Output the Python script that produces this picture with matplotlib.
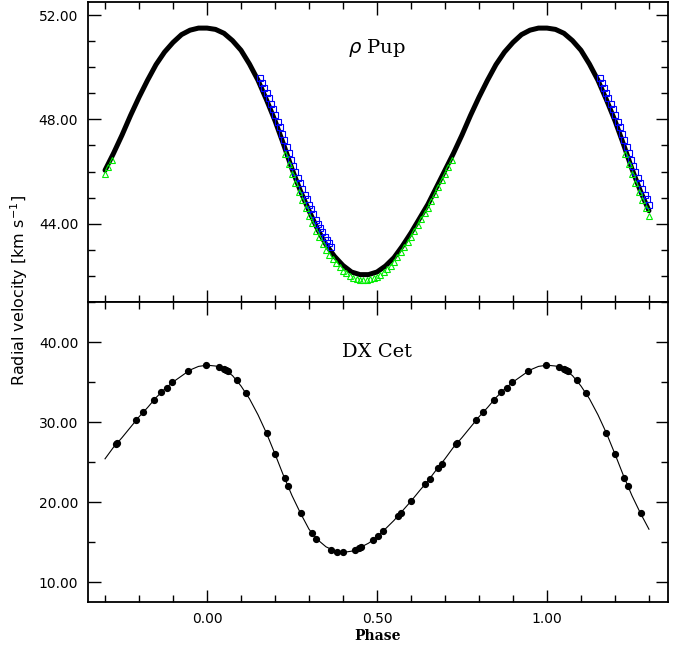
import numpy as np
import matplotlib
matplotlib.use("Agg")
import matplotlib.pyplot as plt
from matplotlib.ticker import MultipleLocator, FormatStrFormatter

# rho Pup : modele (points noirs), phase de base 0 -> 0.975
rho_phase = [0.000, 0.025, 0.050, 0.075, 0.100, 0.125, 0.150, 0.175, 0.200, 0.225,
             0.250, 0.275, 0.300, 0.325, 0.350, 0.375, 0.400, 0.425, 0.450, 0.475,
             0.500, 0.525, 0.550, 0.575, 0.600, 0.625, 0.650, 0.675, 0.700, 0.725,
             0.750, 0.775, 0.800, 0.825, 0.850, 0.875, 0.900, 0.925, 0.950, 0.975]
rho_vr = [51.50, 51.45, 51.30, 51.02, 50.65, 50.12, 49.50, 48.75, 47.95, 47.05,
          46.10, 45.25, 44.50, 43.80, 43.20, 42.75, 42.40, 42.15, 42.05, 42.05,
          42.15, 42.38, 42.70, 43.15, 43.65, 44.20, 44.75, 45.40, 46.05, 46.70,
          47.40, 48.15, 48.85, 49.50, 50.10, 50.58, 50.95, 51.25, 51.42, 51.50]

# carres bleus
blue_phase = [0.155, 0.162, 0.168, 0.175, 0.181, 0.188, 0.194, 0.201, 0.208, 0.214,
              0.221, 0.227, 0.234, 0.240, 0.247, 0.254, 0.260, 0.267, 0.273, 0.280,
              0.287, 0.293, 0.300, 0.306, 0.313, 0.320, 0.326, 0.333, 0.339, 0.346,
              0.353, 0.359, 0.366]
blue_vr = [49.60, 49.39, 49.21, 49.00, 48.81, 48.59, 48.39, 48.16, 47.91, 47.70,
           47.45, 47.22, 46.96, 46.72, 46.45, 46.20, 46.00, 45.76, 45.55, 45.33,
           45.12, 44.94, 44.73, 44.56, 44.36, 44.16, 44.00, 43.82, 43.68, 43.51,
           43.36, 43.25, 43.12]

# triangles verts
green_phase = [0.23, 0.24, 0.25, 0.26, 0.27, 0.28, 0.29, 0.30, 0.31, 0.32,
               0.33, 0.34, 0.35, 0.36, 0.37, 0.38, 0.39, 0.40, 0.41, 0.42,
               0.43, 0.44, 0.45, 0.46, 0.47, 0.48, 0.49, 0.50, 0.51, 0.52,
               0.53, 0.54, 0.55, 0.56, 0.57, 0.58, 0.59, 0.60, 0.61, 0.62,
               0.63, 0.64, 0.65, 0.66, 0.67, 0.68, 0.69, 0.70, 0.71, 0.72]
green_vr = [46.66, 46.28, 45.90, 45.56, 45.22, 44.90, 44.60, 44.30, 44.02, 43.74,
            43.48, 43.24, 43.00, 42.82, 42.64, 42.48, 42.34, 42.20, 42.10, 42.00,
            41.93, 41.89, 41.85, 41.85, 41.85, 41.87, 41.91, 41.96, 42.05, 42.14,
            42.26, 42.39, 42.53, 42.72, 42.90, 43.10, 43.31, 43.51, 43.74, 43.96,
            44.18, 44.40, 44.62, 44.88, 45.14, 45.40, 45.66, 45.92, 46.18, 46.44]

# DX Cet : observations
dx_phase = [0.998, 0.034, 0.050, 0.055, 0.062, 0.087, 0.116, 0.175, 0.200, 0.228,
            0.238, 0.276, 0.310, 0.321, 0.366, 0.383, 0.400, 0.434, 0.448, 0.453,
            0.489, 0.503, 0.517, 0.561, 0.570, 0.600, 0.641, 0.656, 0.678, 0.691,
            0.732, 0.736, 0.790, 0.811, 0.843, 0.866, 0.881, 0.898, 0.944]
dx_vr = [37.10, 36.90, 36.60, 36.50, 36.35, 35.20, 33.60, 28.60, 26.00, 23.05,
         22.05, 18.60, 16.10, 15.40, 14.00, 13.80, 13.70, 14.05, 14.30, 14.35,
         15.30, 15.80, 16.35, 18.25, 18.65, 20.10, 22.20, 22.90, 24.20, 24.80,
         27.20, 27.35, 30.20, 31.20, 32.75, 33.70, 34.30, 34.95, 36.35]

# DX Cet : ajustement
fit_phase = rho_phase
fit_vr = [37.10, 37.00, 36.60, 35.80, 34.50, 32.90, 30.90, 28.60, 26.00, 23.30,
          20.80, 18.60, 16.60, 15.30, 14.40, 13.90, 13.70, 13.85, 14.30, 14.85,
          15.60, 16.65, 17.70, 18.90, 20.10, 21.40, 22.65, 24.05, 25.40, 26.85,
          28.05, 29.35, 30.65, 31.80, 33.05, 34.10, 35.00, 35.75, 36.50, 36.95]


def replie(ph, v, pmin=-0.3, pmax=1.3):
    """repete les points sur plusieurs cycles et garde pmin..pmax"""
    ph = np.asarray(ph)
    v = np.asarray(v)
    x = np.concatenate([ph - 1, ph, ph + 1])
    y = np.concatenate([v, v, v])
    ok = (x >= pmin - 1e-9) & (x <= pmax + 1e-9)
    idx = np.argsort(x[ok])
    return x[ok][idx], y[ok][idx]


fig = plt.figure(figsize=(6.91, 6.46), dpi=100)
ax1 = fig.add_axes([0.1274, 0.5325, 0.8393, 0.4644])
ax2 = fig.add_axes([0.1274, 0.0681, 0.8393, 0.4644], sharex=ax1)

x, y = replie(rho_phase, rho_vr)
ax1.plot(x, y, "-", color="black", lw=3.6, solid_capstyle="round", zorder=2)
x, y = replie(blue_phase, blue_vr)
ax1.plot(x, y, "s", mfc="none", mec="blue", ms=4, mew=0.8, zorder=3)
x, y = replie(green_phase, green_vr)
ax1.plot(x, y, "^", mfc="none", mec="#00ee00", ms=4.5, mew=0.8, zorder=3)
ax1.text(0.5, 50.75, r"$\rho$ Pup", ha="center", va="center", fontsize=14,
         family="DejaVu Serif")
ax1.set_ylim(41.0, 52.5)
ax1.yaxis.set_major_locator(MultipleLocator(4))
ax1.yaxis.set_minor_locator(MultipleLocator(1))
plt.setp(ax1.get_xticklabels(), visible=False)

x, y = replie(fit_phase, fit_vr)
ax2.plot(x, y, "-", color="black", lw=0.8)
x, y = replie(dx_phase, dx_vr)
ax2.plot(x, y, "o", color="black", ms=4.2)
ax2.text(0.5, 38.8, "DX Cet", ha="center", va="center", fontsize=14,
         family="DejaVu Serif")
ax2.set_ylim(7.5, 45)
ax2.yaxis.set_major_locator(MultipleLocator(10))
ax2.yaxis.set_minor_locator(MultipleLocator(5))
ax2.set_xlabel("Phase", fontsize=10, fontweight="bold", family="DejaVu Serif",
               labelpad=2)

ax2.set_xlim(-0.35, 1.356)
ax2.xaxis.set_major_locator(MultipleLocator(0.5))
ax2.xaxis.set_minor_locator(MultipleLocator(0.1))

for ax in (ax1, ax2):
    ax.yaxis.set_major_formatter(FormatStrFormatter("%.2f"))
    ax.xaxis.set_major_formatter(FormatStrFormatter("%.2f"))
    ax.tick_params(which="both", direction="in", top=True, right=True,
                   labelsize=10, width=1)
    ax.tick_params(which="major", length=9, pad=7)
    ax.tick_params(which="minor", length=5)
    for s in ax.spines.values():
        s.set_linewidth(1.3)

fig.text(0.027, 0.551, r"Radial velocity [km s$^{-1}$]", rotation=90,
         ha="center", va="center", fontsize=11.5)

plt.savefig("out.png", dpi=100)
